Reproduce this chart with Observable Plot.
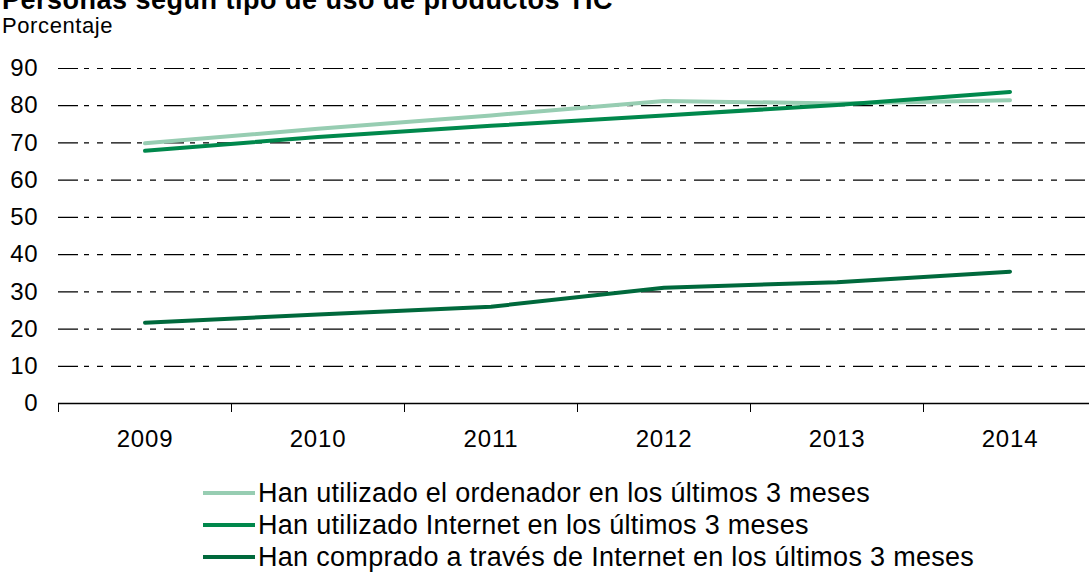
<!DOCTYPE html>
<html>
<head>
<meta charset="utf-8">
<script src="https://cdn.jsdelivr.net/npm/d3@7"></script>
<script src="https://cdn.jsdelivr.net/npm/@observablehq/plot@0.6"></script>
<style>
  html, body { margin: 0; padding: 0; background: #fff; overflow: hidden; }
  body { width: 1089px; height: 577px; position: relative; font-family: "Liberation Sans", Arial, sans-serif; color: #000; }
  #title { position: absolute; left: 2px; top: -13px; font-size: 27px; line-height: 1; font-weight: bold; white-space: nowrap; letter-spacing: 0.5px; }
  #subtitle { position: absolute; left: 2px; top: 15px; font-size: 22px; line-height: 1; white-space: nowrap; letter-spacing: 0.6px; }
  #chart { position: absolute; left: 0; top: 40px; }
  #chart text { letter-spacing: 0.8px; }
  #legend { position: absolute; left: 203px; top: 477px; font-size: 27px; line-height: 32px; letter-spacing: 0.3px; }
  .row { display: flex; align-items: center; height: 32px; white-space: nowrap; }
  .sw { width: 52px; height: 4px; margin-right: 3px; }
</style>
</head>
<body>
<div id="title">Personas según tipo de uso de productos TIC</div>
<div id="subtitle">Porcentaje</div>
<div id="chart"></div>
<div id="legend"></div>
<script>
const years = [2009, 2010, 2011, 2012, 2013, 2014];
const seriesNames = [
  "Han utilizado el ordenador en los últimos 3 meses",
  "Han utilizado Internet en los últimos 3 meses",
  "Han comprado a través de Internet en los últimos 3 meses"
];
const ordenador = [69.9, 73.8, 77.4, 81.3, 80.6, 81.5];
const internet = [67.9, 71.6, 74.6, 77.4, 80.2, 83.7];
const compra = [21.7, 23.9, 26.0, 31.1, 32.6, 35.4];
const colors = ["#97cdb2", "#00884c", "#00693c"];
const yTicks = [0, 10, 20, 30, 40, 50, 60, 70, 80, 90];
const gridTicks = [10, 20, 30, 40, 50, 60, 70, 80, 90];
const bandEdges = [2008.5, 2009.5, 2010.5, 2011.5, 2012.5, 2013.5];

const values = [ordenador, internet, compra];
const data = [];
values.forEach((arr, s) => arr.forEach((v, i) => data.push({serie: seriesNames[s], year: years[i], value: v})));

const plot = Plot.plot({
  width: 1089,
  height: 420,
  marginLeft: 58,
  marginRight: 0,
  marginTop: 28,
  marginBottom: 57,
  style: { fontFamily: "Liberation Sans, Arial, sans-serif", fontSize: "24px", color: "#000", background: "transparent" },
  x: { type: "linear", domain: [2008.5, 2014.5], range: [58, 1096] },
  y: { domain: [0, 90], range: [363, 28] },
  color: { domain: seriesNames, range: colors },
  marks: [
    Plot.ruleY(gridTicks, { stroke: "#000", strokeWidth: 1.2, strokeDasharray: "20,6,5,8,6,8" }),
    Plot.axisY(yTicks, { tickSize: 0, tickPadding: 20, tickFormat: d => String(d), fontSize: 24, label: null }),
    Plot.axisX(bandEdges, { tickSize: 9, stroke: "#000", tickFormat: () => "", label: null }),
    Plot.axisX(years, { tickSize: 0, tickPadding: 26, tickFormat: d => String(d), fontSize: 24, label: null }),
    Plot.ruleY([0], { stroke: "#000", strokeWidth: 1.5 }),
    Plot.line(data, { x: "year", y: "value", z: "serie", stroke: "serie", strokeWidth: 4, strokeLinecap: "round", strokeLinejoin: "round" })
  ]
});
document.getElementById("chart").appendChild(plot);

const legend = document.getElementById("legend");
seriesNames.forEach((name, i) => {
  const row = document.createElement("div");
  row.className = "row";
  const sw = document.createElement("div");
  sw.className = "sw";
  sw.style.background = colors[i];
  const label = document.createElement("span");
  label.textContent = name;
  row.appendChild(sw);
  row.appendChild(label);
  legend.appendChild(row);
});
</script>
</body>
</html>
